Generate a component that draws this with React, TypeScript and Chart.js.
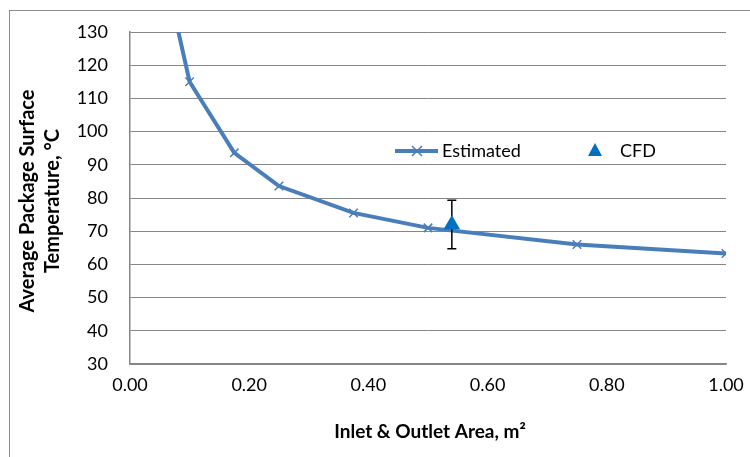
import React, { useEffect, useRef } from "react";
import { Chart, registerables } from "chart.js";

Chart.register(...registerables);

const estimatedArea = [0.05, 0.1, 0.175, 0.25, 0.375, 0.5, 0.75, 1.0];
const estimatedTemp = [155, 115, 93.6, 83.6, 75.5, 71.0, 66.0, 63.3];
const cfdArea = [0.54];
const cfdTemp = [72];
const cfdError = [7.3];
const yTitleLines = ["Average Package Surface", "Temperature, \u00B0C"];
const xTitle = "Inlet & Outlet Area, m\u00B2";
const seriesNames = ["Estimated", "CFD"];

const FONT = "Lato, 'Noto Sans', sans-serif";
const LINE_BLUE = "#4A7EBB";
const CFD_BLUE = "#0070C0";
const GRID = "#868686";

export default function App() {
  const ref = useRef<HTMLCanvasElement | null>(null);

  useEffect(() => {
    if (!ref.current) return;

    const decorPlugin = {
      id: "decor",
      beforeDraw(chart: any) {
        const ctx = chart.ctx;
        ctx.save();
        ctx.strokeStyle = "#8C8C8C";
        ctx.lineWidth = 1;
        ctx.strokeRect(9.5, 10.5, 900, 900);
        ctx.restore();
      },
      beforeDatasetDraw(chart: any, args: any) {
        if (args.index !== 1) return;
        const ctx = chart.ctx;
        const xs = chart.scales.x;
        const ys = chart.scales.y;
        ctx.save();
        ctx.strokeStyle = "#000";
        ctx.lineWidth = 1.5;
        cfdArea.forEach((a, i) => {
          const px = xs.getPixelForValue(a);
          const top = ys.getPixelForValue(cfdTemp[i] + cfdError[i]);
          const bot = ys.getPixelForValue(cfdTemp[i] - cfdError[i]);
          ctx.beginPath();
          ctx.moveTo(px, top);
          ctx.lineTo(px, bot);
          ctx.moveTo(px - 4.5, top);
          ctx.lineTo(px + 4.5, top);
          ctx.moveTo(px - 4.5, bot);
          ctx.lineTo(px + 4.5, bot);
          ctx.stroke();
        });
        ctx.restore();
      },
      afterDraw(chart: any) {
        const ctx = chart.ctx;
        const area = chart.chartArea;
        ctx.save();
        // y title
        ctx.fillStyle = "#000";
        ctx.font = `bold 20px ${FONT}`;
        ctx.textAlign = "center";
        ctx.textBaseline = "middle";
        const cy = (area.top + area.bottom) / 2 + 3;
        ctx.save();
        ctx.translate(28, cy);
        ctx.rotate(-Math.PI / 2);
        ctx.fillText(yTitleLines[0], 0, 0);
        ctx.restore();
        ctx.save();
        ctx.translate(53, cy);
        ctx.rotate(-Math.PI / 2);
        ctx.fillText(yTitleLines[1], 0, 0);
        ctx.restore();
        // x title
        ctx.font = `bold 19px ${FONT}`;
        ctx.fillText(xTitle, (area.left + area.right) / 2 + 2, 432);
        // legend
        const ly = 151;
        ctx.strokeStyle = LINE_BLUE;
        ctx.lineWidth = 4;
        ctx.beginPath();
        ctx.moveTo(395, ly);
        ctx.lineTo(438, ly);
        ctx.stroke();
        ctx.lineWidth = 1.5;
        ctx.beginPath();
        ctx.moveTo(412, ly - 5);
        ctx.lineTo(422, ly + 5);
        ctx.moveTo(412, ly + 5);
        ctx.lineTo(422, ly - 5);
        ctx.stroke();
        ctx.font = `18px ${FONT}`;
        ctx.textAlign = "left";
        ctx.fillStyle = "#000";
        ctx.fillText(seriesNames[0], 442, ly);
        ctx.fillStyle = CFD_BLUE;
        ctx.beginPath();
        ctx.moveTo(595, ly - 8);
        ctx.lineTo(602, ly + 5);
        ctx.lineTo(588, ly + 5);
        ctx.closePath();
        ctx.fill();
        ctx.fillStyle = "#000";
        ctx.fillText(seriesNames[1], 620, ly);
        ctx.restore();
      },
    };

    const chart = new Chart(ref.current, {
      type: "scatter",
      data: {
        datasets: [
          {
            label: seriesNames[0],
            data: estimatedArea.map((a, i) => ({ x: a, y: estimatedTemp[i] })),
            showLine: true,
            borderColor: LINE_BLUE,
            backgroundColor: LINE_BLUE,
            borderWidth: 4,
            pointStyle: "crossRot",
            pointRadius: 6,
            pointBorderWidth: 1.5,
            pointBorderColor: LINE_BLUE,
            order: 1,
          },
          {
            label: seriesNames[1],
            data: cfdArea.map((a, i) => ({ x: a, y: cfdTemp[i] })),
            showLine: false,
            pointStyle: "triangle",
            pointRadius: 9.5,
            pointBorderWidth: 0,
            backgroundColor: CFD_BLUE,
            borderColor: CFD_BLUE,
            order: 0,
          },
        ],
      },
      options: {
        animation: false,
        responsive: true,
        maintainAspectRatio: false,
        layout: { padding: { left: 0, top: 32, right: 24, bottom: 0 } },
        plugins: { legend: { display: false }, tooltip: { enabled: false } },
        scales: {
          x: {
            type: "linear",
            min: 0,
            max: 1,
            grid: { display: true, color: "rgba(0,0,0,0)", drawTicks: false },
            border: { display: true, color: GRID, width: 1.5 },
            ticks: {
              stepSize: 0.2,
              padding: 10,
              color: "#000",
              font: { family: FONT, size: 18 },
              callback: (v: any) => Number(v).toFixed(2),
              maxRotation: 0,
            },
            afterFit: (s: any) => {
              s.height = 93;
              s.paddingLeft = 0;
              s.paddingRight = 0;
              s.paddingTop = 0;
              s.paddingBottom = 0;
            },
          },
          y: {
            min: 30,
            max: 130,
            grid: { color: GRID, lineWidth: 1, drawTicks: false },
            border: { display: true, color: GRID, width: 1.5 },
            ticks: {
              stepSize: 10,
              padding: 22,
              color: "#000",
              font: { family: FONT, size: 18 },
            },
            afterFit: (s: any) => {
              s.width = 130;
              s.paddingLeft = 0;
              s.paddingRight = 0;
              s.paddingTop = 0;
              s.paddingBottom = 0;
            },
          },
        },
      },
      plugins: [decorPlugin],
    });
    return () => chart.destroy();
  }, []);

  return (
    <div style={{ position: "absolute", left: 0, top: 0, width: 750, height: 457 }}>
      <canvas ref={ref} />
    </div>
  );
}
